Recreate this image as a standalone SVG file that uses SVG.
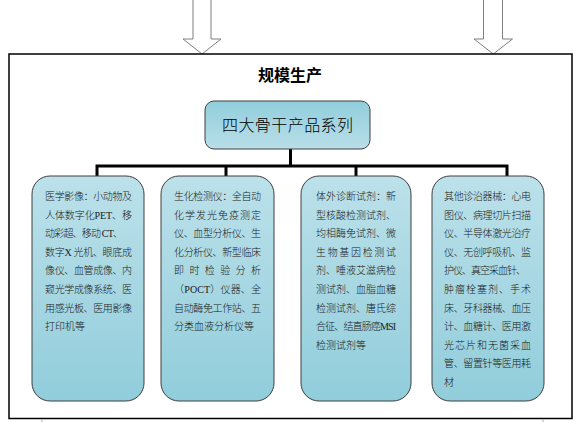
<svg xmlns="http://www.w3.org/2000/svg" width="582" height="422" viewBox="0 0 582 422">
<defs>
<linearGradient id="gBox" x1="0" y1="0" x2="0" y2="1">
<stop offset="0" stop-color="#bce1ea"/>
<stop offset="1" stop-color="#91cddb"/>
</linearGradient>
<linearGradient id="gTop" x1="0" y1="0" x2="0" y2="1">
<stop offset="0" stop-color="#91cddb"/>
<stop offset="1" stop-color="#b9dfe9"/>
</linearGradient>
<style>
.arrow{fill:#fff;stroke:#7f7f7f;stroke-width:1}
.frame{fill:#fff;stroke:#000;stroke-width:1.5}
.box{fill:url(#gBox);stroke:#3f3f3f;stroke-width:1}
.conn{fill:none;stroke:#000;stroke-width:3}
.t{font-family:"Liberation Serif","Noto Sans CJK SC",serif;font-size:10px;font-weight:300;fill:#1a1a1a}
.title{font-family:"Noto Sans CJK SC",sans-serif;font-size:16px;font-weight:bold;fill:#000;text-anchor:middle}
.main{font-family:"Noto Sans CJK SC",sans-serif;font-size:16px;font-weight:300;fill:#000;text-anchor:middle}
</style>
</defs>
<rect width="582" height="422" fill="#fff"/>
<g id="arrows">
<path class="arrow" d="M193,-2 V39 H183 L202,54 L221,39 H211 V-2"/>
<path class="arrow" d="M483.5,-2 V39 H474 L493.3,54 L512.5,39 H502.5 V-2"/>
</g>
<g id="frame">
<rect class="frame" x="9" y="54" width="563" height="364.5"/>
<line x1="42" y1="419.5" x2="42" y2="422" stroke="#aaa" stroke-width="1"/>
<line x1="543" y1="419.5" x2="543" y2="422" stroke="#aaa" stroke-width="1"/>
<text class="title" x="290" y="81">规模生产</text>
</g>
<g id="connectors">
<line class="conn" x1="290.5" y1="149" x2="290.5" y2="166" stroke-width="2.5"/>
<polyline class="conn" points="97,177 97,166 507,166 507,177"/>
<line class="conn" x1="226" y1="166" x2="226" y2="177"/>
<line class="conn" x1="356" y1="166" x2="356" y2="177"/>
</g>
<g id="top">
<rect x="205" y="101" width="165" height="48" rx="9" fill="url(#gTop)" stroke="#3f3f3f" stroke-width="1"/>
<text class="main" x="287.5" y="131" textLength="131" lengthAdjust="spacing">四大骨干产品系列</text>
</g>
<g id="n1">
<rect class="box" x="32" y="176" width="112" height="225" rx="18"/>
<text class="t" x="45" y="200" textLength="87" lengthAdjust="spacing">医学影像：小动物及</text>
<text class="t" x="45" y="218.6" textLength="87" lengthAdjust="spacing">人体数字化PET、移</text>
<text class="t" x="45" y="237.2" textLength="78" lengthAdjust="spacing">动彩超、移动 CT、</text>
<text class="t" x="45" y="255.8" textLength="87" lengthAdjust="spacing">数字X 光机、眼底成</text>
<text class="t" x="45" y="274.4" textLength="87" lengthAdjust="spacing">像仪、血管成像、内</text>
<text class="t" x="45" y="293" textLength="87" lengthAdjust="spacing">窥光学成像系统、医</text>
<text class="t" x="45" y="311.6" textLength="87" lengthAdjust="spacing">用感光板、医用影像</text>
<text class="t" x="45" y="330.2">打印机等</text>
</g>
<g id="n2">
<rect class="box" x="161" y="176" width="113" height="225" rx="18"/>
<text class="t" x="174" y="200" textLength="87" lengthAdjust="spacing">生化检测仪：全自动</text>
<text class="t" x="174" y="218.6" textLength="87" lengthAdjust="spacing">化学发光免疫测定</text>
<text class="t" x="174" y="237.2" textLength="87" lengthAdjust="spacing">仪、血型分析仪、生</text>
<text class="t" x="174" y="255.8" textLength="87" lengthAdjust="spacing">化分析仪、新型临床</text>
<text class="t" x="174" y="274.4" textLength="87" lengthAdjust="spacing">即时检验分析</text>
<text class="t" x="174" y="293" textLength="87" lengthAdjust="spacing">（POCT）仪器、全</text>
<text class="t" x="174" y="311.6" textLength="87" lengthAdjust="spacing">自动酶免工作站、五</text>
<text class="t" x="174" y="330.2">分类血液分析仪等</text>
</g>
<g id="n3">
<rect class="box" x="301" y="176" width="110" height="225" rx="18"/>
<text class="t" x="316" y="200" textLength="80" lengthAdjust="spacing">体外诊断试剂：新</text>
<text class="t" x="316" y="218.6" textLength="80" lengthAdjust="spacing">型核酸检测试剂、</text>
<text class="t" x="316" y="237.2" textLength="80" lengthAdjust="spacing">均相酶免试剂、微</text>
<text class="t" x="316" y="255.8" textLength="80" lengthAdjust="spacing">生物基因检测试</text>
<text class="t" x="316" y="274.4" textLength="80" lengthAdjust="spacing">剂、唾液艾滋病检</text>
<text class="t" x="316" y="293" textLength="80" lengthAdjust="spacing">测试剂、血脂血糖</text>
<text class="t" x="316" y="311.6" textLength="80" lengthAdjust="spacing">检测试剂、唐氏综</text>
<text class="t" x="316" y="330.2" textLength="80" lengthAdjust="spacing">合征、结直肠癌MSI</text>
<text class="t" x="316" y="348.8">检测试剂等</text>
</g>
<g id="n4">
<rect class="box" x="432" y="176" width="112" height="225" rx="18"/>
<text class="t" x="444" y="200" textLength="87" lengthAdjust="spacing">其他诊治器械：心电</text>
<text class="t" x="444" y="218.6" textLength="87" lengthAdjust="spacing">图仪、病理切片扫描</text>
<text class="t" x="444" y="237.2" textLength="87" lengthAdjust="spacing">仪、半导体激光治疗</text>
<text class="t" x="444" y="255.8" textLength="87" lengthAdjust="spacing">仪、无创呼吸机、监</text>
<text class="t" x="444" y="274.4" textLength="82" lengthAdjust="spacing">护仪、真空采血针、</text>
<text class="t" x="444" y="293" textLength="87" lengthAdjust="spacing">肿瘤栓塞剂、手术</text>
<text class="t" x="444" y="311.6" textLength="87" lengthAdjust="spacing">床、牙科器械、血压</text>
<text class="t" x="444" y="330.2" textLength="87" lengthAdjust="spacing">计、血糖计、医用激</text>
<text class="t" x="444" y="348.8" textLength="87" lengthAdjust="spacing">光芯片和无菌采血</text>
<text class="t" x="444" y="367.4" textLength="87" lengthAdjust="spacing">管、留置针等医用耗</text>
<text class="t" x="444" y="386">材</text>
</g>
</svg>
